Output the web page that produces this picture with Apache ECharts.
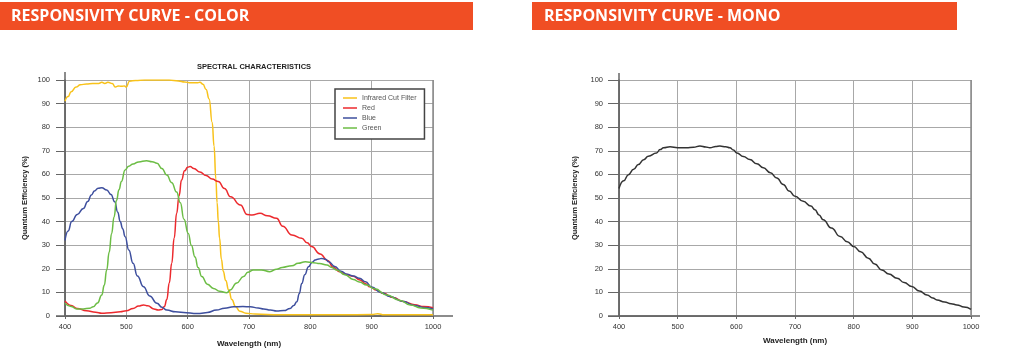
<!DOCTYPE html>
<html>
<head>
<meta charset="utf-8">
<style>
  html, body { margin: 0; padding: 0; background: #fff; }
  #chart { width: 1024px; height: 359px; }
</style>
<script src="https://cdn.jsdelivr.net/npm/echarts@6/dist/echarts.min.js"></script>
</head>
<body>
<div id="chart"></div>
<script>
// ---- Data (wavelength nm, quantum efficiency %) ----
const xTicks = [400, 500, 600, 700, 800, 900, 1000];
const yTicks = [0, 10, 20, 30, 40, 50, 60, 70, 80, 90, 100];

const irCutFilter = [[400,91],[405,93],[410,95],[418,97],[425,98],[435,98.3],[445,98.5],[455,98.5],[460,99],[465,98.5],[470,99],[477,98.5],[482,97],[487,97.5],[492,97.3],[497,97.5],[500,97],[505,99.5],[515,99.8],[530,100],[550,100],[570,100],[585,99.6],[595,99.2],[605,98.8],[615,98.8],[620,99],[625,98.2],[630,96],[635,92],[640,82],[643,72],[646,58],[648,48],[650,40],[652,33],[655,24],[658,19],[662,15],[667,11],[672,7],[678,4],[685,2],[695,1.2],[710,0.8],[750,0.5],[800,0.5],[850,0.5],[900,0.6],[910,1],[920,0.5],[1000,0.5]];

const red = [[400,6.4],[410,4.5],[420,3.2],[435,2.2],[450,1.6],[460,1.2],[475,1.4],[490,1.8],[500,2.2],[511,3.2],[520,4.2],[528,4.7],[535,4.3],[545,3],[552,2.5],[558,2.8],[562,4],[566,7],[570,14],[574,22.3],[578,33],[582,43.5],[586,51],[590,57.6],[595,61.5],[600,63],[604,63.3],[610,62.5],[620,61],[630,59.5],[640,58],[650,57],[660,54],[670,50.5],[686,47],[697,43],[705,42.8],[718,43.5],[730,42.5],[745,41.4],[755,38],[770,34.3],[786,32.9],[795,31],[802,29.4],[816,26.3],[828,23.5],[838,20.5],[848,18.7],[857,17.7],[870,16.8],[881,15.3],[890,13.7],[897,12.4],[908,11],[919,9.6],[935,7.8],[952,6.1],[970,4.8],[985,4],[1000,3.5]];

const blue = [[400,32],[405,36],[411,40],[420,43],[430,45.6],[437,48.5],[443,51.3],[448,53],[454,54.1],[460,54.3],[468,53.4],[475,51.5],[481,48.4],[486,44],[490,40],[494,37],[498,33.6],[504,28],[511,22.3],[518,17],[528,12.4],[538,8.5],[550,5.4],[558,3.7],[566,2.5],[580,1.8],[598,1.4],[610,1.1],[620,1.1],[632,1.5],[647,2.5],[660,3.3],[675,3.9],[690,4],[702,3.9],[715,3.4],[724,3],[735,2.5],[745,2.1],[757,2.3],[767,3.2],[773,4.5],[778,6],[782,9.5],[786,13.8],[791,17.5],[797,20.9],[803,22.8],[808,23.7],[814,24.2],[819,24.4],[825,24],[830,23],[840,21],[850,19],[860,17.7],[870,17],[880,16],[890,14.5],[900,12.3],[915,10],[930,8.3],[950,6.3],[970,4.5],[985,3.6],[1000,3]];

const green = [[400,5.4],[410,4],[419,3],[430,3],[440,3.3],[446,3.9],[453,5.5],[460,8.9],[464,13],[468,19.5],[472,27],[476,35],[480,42],[484,49],[488,53.5],[492,57],[498,61.9],[504,63.5],[511,64.4],[520,65.3],[533,65.8],[542,65.4],[550,64.7],[558,62.5],[566,59.7],[574,56.5],[582,52.5],[588,48],[594,41],[601,35],[606,30],[612,25],[617,20.5],[623,16.7],[632,13.5],[642,11.7],[652,10.5],[664,9.9],[669,11],[680,14],[691,16.7],[698,18.5],[707,19.5],[720,19.5],[734,18.8],[745,19.8],[754,20.6],[770,21.3],[780,22.3],[792,23],[805,22.6],[815,22.2],[827,21.6],[835,20.6],[843,19.5],[856,17.5],[870,15.5],[880,14.4],[892,13.1],[905,11.5],[925,8.9],[945,6.7],[963,4.7],[980,3.4],[1000,2.5]];

const mono = [[400,54],[408,57.3],[416,59.9],[425,62.2],[433,64.2],[442,66.2],[450,67.7],[464,69.1],[470,70.5],[476,71.3],[487,71.7],[500,71.3],[515,71.3],[527,71.5],[538,72],[548,71.6],[555,71.3],[565,71.8],[572,72],[582,71.7],[589,71.3],[595,70.3],[601,69.1],[612,67.6],[623,66.3],[635,64.5],[646,62.8],[658,60.7],[669,58.5],[680,55.7],[690,53],[700,50.7],[714,48.6],[727,46.6],[734,45],[741,42.8],[748,40.8],[762,37.3],[777,33.7],[789,31.5],[800,29.5],[812,27.2],[825,24.5],[836,22],[848,19.5],[860,17.8],[874,16],[886,14.2],[899,12.5],[912,10.6],[925,8.9],[935,7.6],[942,6.8],[955,5.9],[966,5.2],[976,4.7],[988,3.8],[1000,2.8]];

const seriesNames = ['Infrared Cut Filter', 'Red', 'Blue', 'Green'];
const seriesColors = ['#F8C21A', '#EC2A2E', '#3E4F9E', '#6CBD45'];
const headerTexts = ['RESPONSIVITY CURVE - COLOR', 'RESPONSIVITY CURVE - MONO'];

// ---- Chart ----
const chart = echarts.init(document.getElementById('chart'), null, { renderer: 'canvas' });
const FONT = '"Liberation Sans", Arial, sans-serif';

function xAxisCfg(gridIndex, nameGap) {
  return {
    type: 'value', gridIndex, min: 400, max: 1000, interval: 100,
    name: 'Wavelength (nm)', nameLocation: 'middle', nameGap,
    nameTextStyle: { fontFamily: FONT, fontWeight: 'bold', fontSize: 8, color: '#222' },
    axisLine: { show: true, lineStyle: { color: '#666', width: 1.5 } },
    axisTick: { show: true, length: 3, lineStyle: { color: '#666' } },
    axisLabel: { fontFamily: FONT, fontSize: 7.5, color: '#333', margin: 7, formatter: v => String(v) },
    splitLine: { show: true, lineStyle: { color: '#a8a8a8', width: 1 } }
  };
}
function yAxisCfg(gridIndex, nameGap, tickLen, labelMargin) {
  return {
    type: 'value', gridIndex, min: 0, max: 100, interval: 10,
    name: 'Quantum Efficiency (%)', nameLocation: 'middle', nameGap, nameRotate: 90,
    nameTextStyle: { fontFamily: FONT, fontWeight: 'bold', fontSize: 7.5, color: '#222' },
    axisLine: { show: true, lineStyle: { color: '#666', width: 1.5 } },
    axisTick: { show: true, length: tickLen, lineStyle: { color: '#666' } },
    axisLabel: { fontFamily: FONT, fontSize: 7.5, color: '#333', margin: labelMargin, formatter: v => String(v) },
    splitLine: { show: true, lineStyle: { color: '#a8a8a8', width: 1 } }
  };
}

function lineSeries(name, data, color, xi, yi) {
  return {
    name, type: 'line', data, xAxisIndex: xi, yAxisIndex: yi,
    showSymbol: false, symbol: 'none', smooth: 0.5, smoothMonotone: 'x',
    lineStyle: { color, width: 1.5 }, itemStyle: { color }, z: 5
  };
}

const colorData = [irCutFilter, red, blue, green];

const option = {
  animation: false,
  backgroundColor: '#fff',
  title: {
    text: 'SPECTRAL CHARACTERISTICS',
    left: 249, top: 58, textAlign: 'center',
    textStyle: { fontFamily: FONT, fontWeight: 'bold', fontSize: 7.5, color: '#222' }
  },
  legend: {
    data: seriesNames.map(n => ({ name: n, icon: 'rect' })),
    orient: 'vertical', left: 335, top: 89,
    itemWidth: 14, itemHeight: 1.5, itemGap: 2,
    padding: [5, 8, 7, 8],
    backgroundColor: '#fff', borderColor: '#444', borderWidth: 1.5, borderRadius: 0,
    textStyle: { fontFamily: FONT, fontSize: 7, color: '#555', lineHeight: 8 },
    z: 10
  },
  grid: [
    { left: 65, right: 591, top: 80, bottom: 43 },
    { left: 619, right: 53, top: 80, bottom: 43 }
  ],
  xAxis: [xAxisCfg(0, 24), xAxisCfg(1, 21)],
  yAxis: [yAxisCfg(0, 36, 9, 15), yAxisCfg(1, 40, 11, 16)],
  series: [
    ...seriesNames.map((n, i) => lineSeries(n, colorData[i], seriesColors[i], 0, 0)),
    Object.assign(lineSeries('Mono', mono, '#333', 1, 1), { legendHoverLink: false })
  ],
  graphic: [
    { type: 'rect', shape: { x: 0, y: 2, width: 473, height: 28 }, style: { fill: '#F04E24' } },
    { type: 'rect', shape: { x: 532, y: 2, width: 425, height: 28 }, style: { fill: '#F04E24' } },
    { type: 'text', x: 11, y: 16, style: { text: headerTexts[0], fill: '#fff', font: 'bold 16px "Open Sans", sans-serif', verticalAlign: 'middle' } },
    { type: 'text', x: 544, y: 16, style: { text: headerTexts[1], fill: '#fff', font: 'bold 16px "Open Sans", sans-serif', verticalAlign: 'middle' } }
  ]
};
chart.setOption(option);

// Axis line extensions (beyond the plot area, as in the reference), placed via axis scales
function extras(gi, leftExt, rightExt, topExt) {
  const p0 = chart.convertToPixel({ gridIndex: gi }, [400, 0]);
  const p1 = chart.convertToPixel({ gridIndex: gi }, [1000, 100]);
  return [
    { type: 'line', shape: { x1: p0[0] - leftExt, y1: p0[1], x2: p1[0] + rightExt, y2: p0[1] }, style: { stroke: '#666', lineWidth: 1.5 }, z: 3 },
    { type: 'line', shape: { x1: p0[0], y1: p0[1], x2: p0[0], y2: p1[1] - topExt }, style: { stroke: '#666', lineWidth: 1.5 }, z: 3 },
    { type: 'line', shape: { x1: p1[0], y1: p0[1], x2: p1[0], y2: p1[1] }, style: { stroke: '#8a8a8a', lineWidth: 1.5 }, z: 3 }
  ];
}
chart.setOption({ graphic: option.graphic.concat(extras(0, 9, 20, 8), extras(1, 11, 9, 7)) });
</script>
</body>
</html>
